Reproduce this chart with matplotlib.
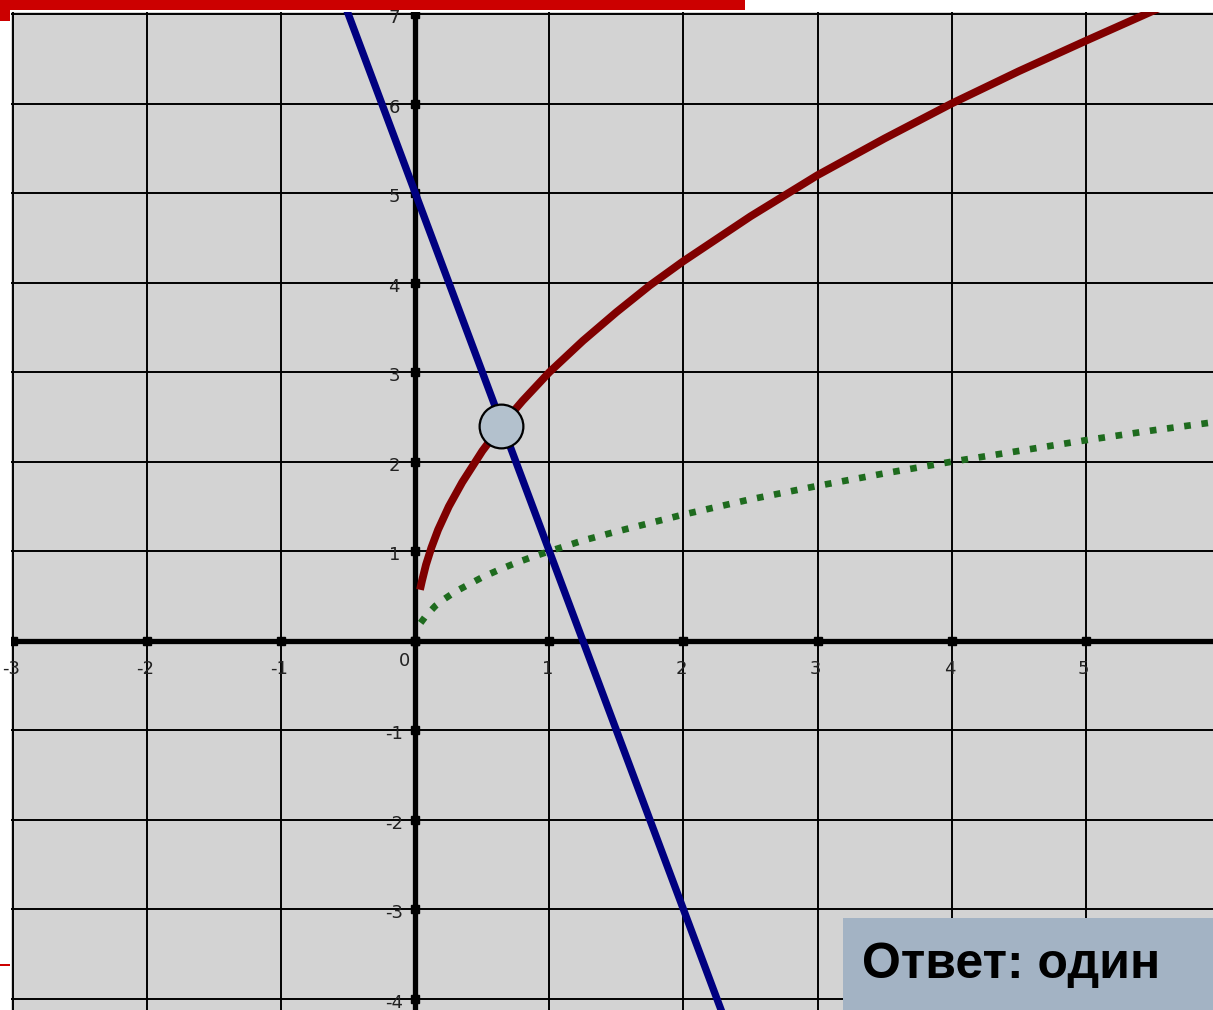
import matplotlib.pyplot as plt
from matplotlib import font_manager
from matplotlib.patches import Rectangle

# values
x_ticks = [-3, -2, -1, 0, 1, 2, 3, 4, 5, 6]
y_ticks = [-4, -3, -2, -1, 0, 1, 2, 3, 4, 5, 6, 7]

blue_x = [-0.55, 2.3]
blue_y = [7.2, -4.2]

red_x = [0.035, 0.05, 0.08, 0.12, 0.17, 0.25, 0.35, 0.5, 0.64, 0.8, 1, 1.25, 1.5, 1.75,
         2, 2.5, 3, 3.5, 4, 4.5, 5, 5.48, 5.6]
red_y = [0.57, 0.67, 0.85, 1.04, 1.24, 1.5, 1.77, 2.12, 2.4, 2.68, 3.0, 3.35, 3.67, 3.97,
         4.24, 4.74, 5.2, 5.61, 6.0, 6.36, 6.7, 7.02, 7.1]

green_x = [0.04, 0.08, 0.15, 0.22, 0.3, 0.4, 0.5, 0.62, 0.75, 0.88, 1, 1.25, 1.5, 2, 2.5,
           3, 3.5, 4, 4.5, 5, 5.5, 6]
green_y = [0.2, 0.28, 0.39, 0.47, 0.55, 0.63, 0.71, 0.79, 0.87, 0.94, 1.0, 1.12, 1.22,
           1.41, 1.58, 1.73, 1.87, 2.0, 2.12, 2.24, 2.35, 2.45]

cross_x = [0.64]
cross_y = [2.4]

answer = "Ответ: один"

bold_file = None
for f in font_manager.fontManager.ttflist:
    if f.fname.endswith("LiberationSans-Bold.ttf"):
        bold_file = f.fname
if bold_file:
    answer_font = font_manager.FontProperties(fname=bold_file, size=36)
else:
    answer_font = font_manager.FontProperties(family="DejaVu Sans", weight="bold", size=33)

W, H = 1213, 1010
fig = plt.figure(figsize=(W / 100, H / 100), dpi=100)
fig.patch.set_facecolor("white")

ax = fig.add_axes([11 / W, 0, (W - 11) / W, (H - 12) / H])
ax.set_facecolor("#d3d3d3")
ax.set_xlim(-3.015, 5.949)
ax.set_ylim(-4.123, 7.022)
for s in ax.spines.values():
    s.set_visible(False)
ax.set_xticks([])
ax.set_yticks([])

# grid
for xv in x_ticks:
    ax.axvline(xv, color="black", lw=1.4, zorder=1)
for yv in y_ticks:
    ax.axhline(yv, color="black", lw=1.4, zorder=1)

# axes
ax.axhline(0, color="black", lw=3.8, zorder=2)
ax.axvline(0, color="black", lw=3.8, zorder=2)
ax.plot(x_ticks, [0] * len(x_ticks), "s", color="black", ms=6, zorder=2)
ax.plot([0] * len(y_ticks), y_ticks, "s", color="black", ms=6, zorder=2)

# tick labels
for xv in x_ticks:
    if xv == 0:
        ax.annotate("0", (0, 0), xytext=(-11, -20), textcoords="offset pixels",
                    ha="center", va="center", fontsize=13, color="#222222")
    else:
        ax.annotate(str(xv), (xv, 0), xytext=(-2, -28), textcoords="offset pixels",
                    ha="center", va="center", fontsize=13, color="#222222")
for yv in y_ticks:
    if yv == 0:
        continue
    ax.annotate(str(yv), (0, yv), xytext=(-21, -4), textcoords="offset pixels",
                ha="center", va="center", fontsize=13, color="#222222")

# curves
ax.plot(green_x, green_y, color="#1e6b1e", lw=4.8, linestyle=(0, (1, 1.6)),
        dash_capstyle="butt", zorder=3)
ax.plot(red_x, red_y, color="#800000", lw=5.6, solid_capstyle="butt", zorder=4)
ax.plot(blue_x, blue_y, color="#000080", lw=5.3, zorder=5)
ax.plot(cross_x, cross_y, "o", ms=31.5, markerfacecolor="#b3c1cd",
        markeredgecolor="black", markeredgewidth=1.6, zorder=6)

# decorations
fig.add_artist(Rectangle((0, 1 - 10 / H), 745 / W, 10 / H, transform=fig.transFigure,
                         facecolor="#cc0000", edgecolor="none"))
fig.add_artist(Rectangle((0, 1 - 21 / H), 10 / W, 12 / H, transform=fig.transFigure,
                         facecolor="#cc0000", edgecolor="none"))
fig.add_artist(Rectangle((0, 1 - 966 / H), 10 / W, 2 / H, transform=fig.transFigure,
                         facecolor="#cc0000", edgecolor="none"))
fig.add_artist(Rectangle((843 / W, 0), (W - 843) / W, 92 / H, transform=fig.transFigure,
                         facecolor="#a3b3c4", edgecolor="none"))
fig.text(862 / W, (H - 978) / H, answer, fontproperties=answer_font, color="black",
         va="baseline", ha="left")

fig.savefig("out.png", dpi=100)
